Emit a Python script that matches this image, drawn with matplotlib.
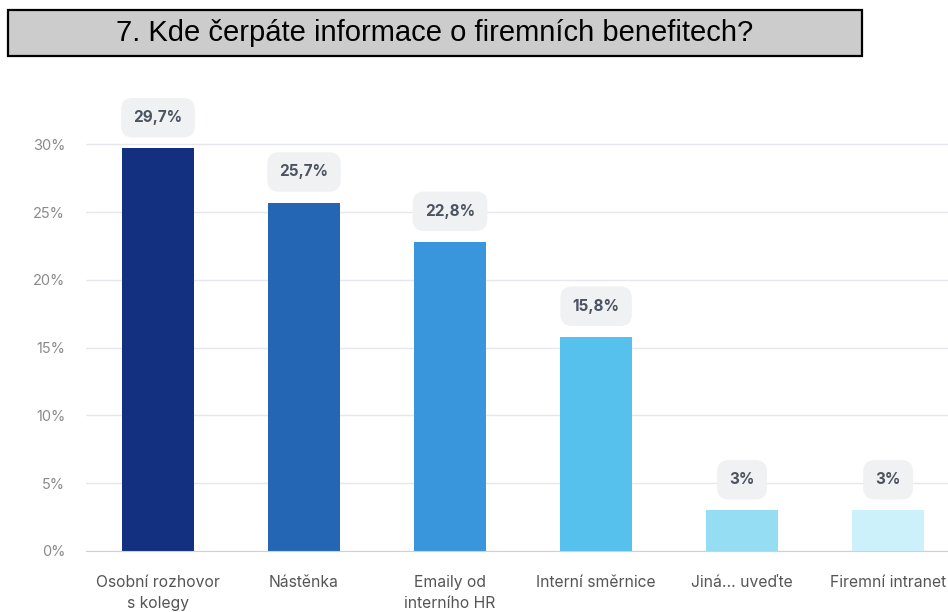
import numpy as np
import matplotlib.pyplot as plt
from matplotlib.patches import FancyBboxPatch

# data
categories = ["Osobní rozhovor\ns kolegy", "Nástěnka", "Emaily od\ninterního HR",
              "Interní směrnice", "Jiná... uveďte", "Firemní intranet"]
values = [29.7, 25.7, 22.8, 15.8, 3, 3]
labels = ["29,7%", "25,7%", "22,8%", "15,8%", "3%", "3%"]
colors = ["#12307f", "#2566b4", "#3a96dc", "#55c1ec", "#95ddf3", "#cdf1fa"]
yticks = [0, 5, 10, 15, 20, 25, 30]

plt.rcParams['font.family'] = ['Inter', 'DejaVu Sans']

fig = plt.figure(figsize=(9.48, 6.12), dpi=100)
ax = fig.add_axes([86/948, 61/612, 1 - 86/948, (551-90)/612])

x = np.arange(len(categories))
ax.bar(x, values, width=0.49, color=colors, zorder=3)
ax.set_xlim(-0.493, 5.41)
ax.set_ylim(0, 34)

ax.set_yticks(yticks)
ax.set_yticklabels([f"{t}%" for t in yticks], color="#8a8a8a", fontsize=10.5)
ax.set_xticks(x)
ax.set_xticklabels(categories, color="#555555", fontsize=11.3, linespacing=1.5)
ax.tick_params(axis='both', length=0)
ax.tick_params(axis='y', pad=15)
ax.tick_params(axis='x', pad=17)

ax.grid(axis='y', color="#e6e7ee", linewidth=1, zorder=0)
for s in ["top", "right", "left"]:
    ax.spines[s].set_visible(False)
ax.spines["bottom"].set_color("#cbd0ea")
ax.spines["bottom"].set_zorder(4)

for xi, v, lab in zip(x, values, labels):
    ax.annotate(lab, xy=(xi, v), xytext=(0, 22), textcoords="offset points",
                ha="center", va="center", fontsize=11, fontweight="bold", color="#4b5361",
                bbox=dict(boxstyle="round,pad=0.8,rounding_size=0.75", fc="#eff1f2", ec="none"))

# title box
fig.patches.append(FancyBboxPatch((8/948, 1 - 56/612), (862-8)/948, 46/612,
                                  boxstyle="square,pad=0", transform=fig.transFigure,
                                  fc="#cccccc", ec="black", lw=1.6))
fig.text(435/948, 1 - 33/612, "7. Kde čerpáte informace o firemních benefitech?",
         ha="center", va="center", fontsize=21, family="Liberation Sans", color="black")

plt.savefig("out.png", dpi=100)
